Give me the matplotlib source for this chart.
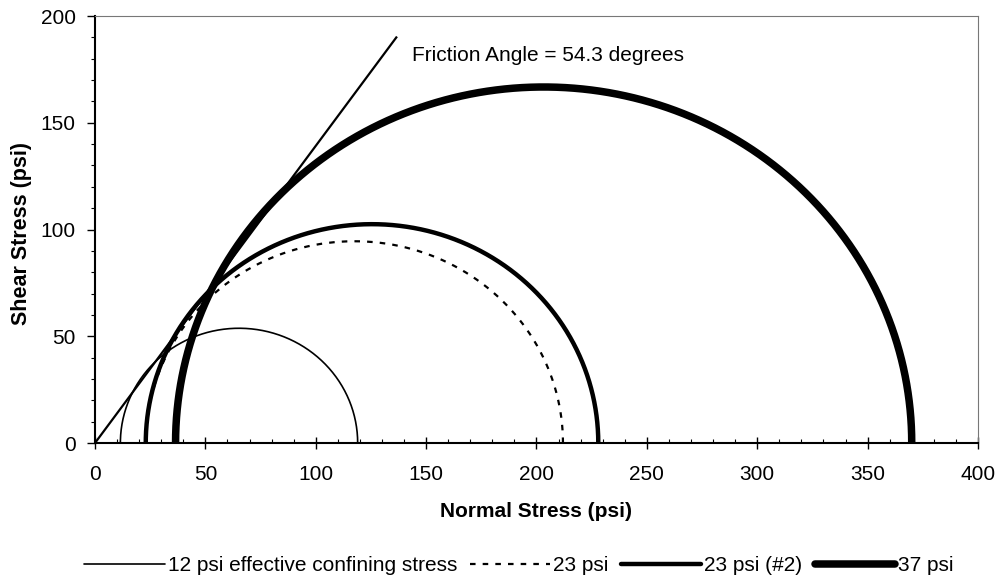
import numpy as np
import matplotlib.pyplot as plt
from matplotlib.lines import Line2D
from matplotlib.ticker import MultipleLocator

plt.rcParams['font.family'] = ['Liberation Sans', 'DejaVu Sans']

# Mohr circles: minor / major principal stress (psi)
labels = ['12 psi effective confining stress', '23 psi', '23 psi (#2)', '37 psi']
sigma3 = [11.5, 23.0, 23.0, 36.5]
sigma1 = [119.0, 212.0, 228.0, 370.0]
widths = [1.2, 1.6, 3.2, 5.4]
styles = ['-', (0, (2.5, 3.2)), '-', '-']

friction_angle = 54.3
line_x = [0, 136.5]

fig = plt.figure(figsize=(10.02, 5.82), dpi=100)
ax = fig.add_axes([0.0948, 0.2388, 0.8812, 0.7337])

theta = np.linspace(0, np.pi, 400)
handles = []
for lab, s3, s1, w, ls in zip(labels, sigma3, sigma1, widths, styles):
    c = (s1 + s3) / 2
    r = (s1 - s3) / 2
    ax.plot(c + r * np.cos(theta), r * np.sin(theta), color='black', lw=w,
            linestyle=ls, solid_capstyle='butt')
    handles.append(Line2D([], [], color='black', lw=w, linestyle=ls,
                          solid_capstyle='round'))

# failure envelope
lx = np.array(line_x)
ax.plot(lx, lx * np.tan(np.radians(friction_angle)), color='black', lw=1.6)
ax.text(143.5, 181.5, 'Friction Angle = 54.3 degrees', fontsize=15, va='center')

ax.set_xlim(0, 400)
ax.set_ylim(0, 200)
ax.xaxis.set_major_locator(MultipleLocator(50))
ax.xaxis.set_minor_locator(MultipleLocator(10))
ax.yaxis.set_major_locator(MultipleLocator(50))
ax.yaxis.set_minor_locator(MultipleLocator(10))
ax.tick_params(axis='x', which='major', direction='inout', length=9, width=1, labelsize=15, pad=11)
ax.tick_params(axis='x', which='minor', direction='in', length=3, width=0.8)
ax.tick_params(axis='y', which='major', direction='out', length=6, width=1, labelsize=15, pad=8)
ax.tick_params(axis='y', which='minor', direction='out', length=3, width=0.8)

for s in ['left', 'bottom']:
    ax.spines[s].set_linewidth(1.5)
for s in ['top', 'right']:
    ax.spines[s].set_linewidth(0.8)
    ax.spines[s].set_color('#777777')

ax.set_xlabel('Normal Stress (psi)', fontsize=15, fontweight='bold')
ax.set_ylabel('Shear Stress (psi)', fontsize=15.5, fontweight='bold')
ax.xaxis.set_label_coords(0.5, -0.137)
ax.yaxis.set_label_coords(-0.071, 0.49)

fig.legend(handles, labels, loc='center', bbox_to_anchor=(0.518, 0.0275), ncol=4,
           frameon=False, fontsize=15, handlelength=3.85, handletextpad=0.15,
           columnspacing=0.6)

fig.savefig('out.png', dpi=100)
